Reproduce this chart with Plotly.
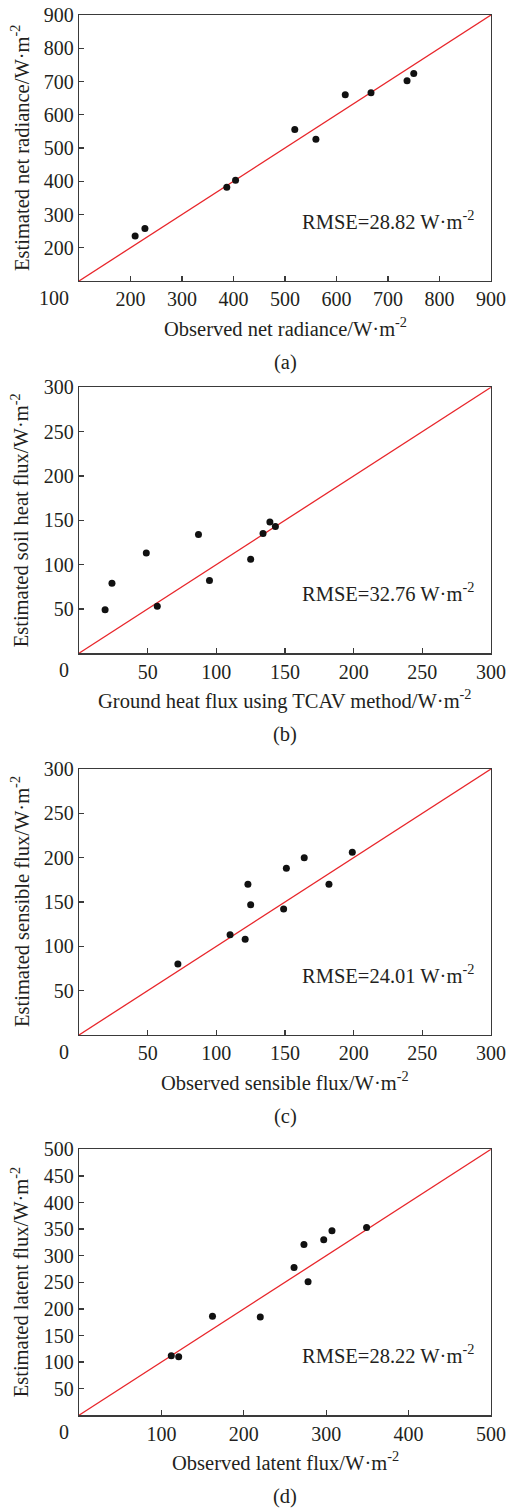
import plotly.graph_objects as go

# ---------------- data ----------------
a_obs = [209, 228, 387, 404, 519, 560, 617, 667, 737, 750]
a_est = [235, 258, 382, 403, 556, 526, 660, 666, 702, 724]

b_obs = [19, 24, 49, 57, 87, 95, 125, 134, 139, 143]
b_est = [49, 79, 113, 53, 134, 82, 106, 135, 148, 143]

c_obs = [72, 110, 121, 123, 125, 149, 151, 164, 182, 199]
c_est = [80, 113, 108, 170, 147, 142, 188, 200, 170, 206]

d_obs = [112, 121, 162, 220, 261, 273, 278, 297, 307, 349]
d_est = [112, 110, 186, 185, 278, 321, 251, 330, 347, 353]

a_ticks = [200, 300, 400, 500, 600, 700, 800, 900]
b_ticks = [50, 100, 150, 200, 250, 300]
c_ticks = [50, 100, 150, 200, 250, 300]
d_xticks = [100, 200, 300, 400, 500]
d_yticks = [50, 100, 150, 200, 250, 300, 350, 400, 450, 500]

unit = "/W·m<sup>-2</sup>"
panels = [
    dict(x=a_obs, y=a_est, lo=100, hi=900, xt=a_ticks, yt=a_ticks,
         xtitle="Observed net radiance" + unit,
         ytitle="Estimated net radiance" + unit,
         rmse="RMSE=28.82 W·m<sup>-2</sup>", tag="(a)", top=15, bottom=281),
    dict(x=b_obs, y=b_est, lo=0, hi=300, xt=b_ticks, yt=b_ticks,
         xtitle="Ground heat flux using TCAV method" + unit,
         ytitle="Estimated soil heat flux" + unit,
         rmse="RMSE=32.76 W·m<sup>-2</sup>", tag="(b)", top=387.3, bottom=653.3),
    dict(x=c_obs, y=c_est, lo=0, hi=300, xt=c_ticks, yt=c_ticks,
         xtitle="Observed sensible flux" + unit,
         ytitle="Estimated sensible flux" + unit,
         rmse="RMSE=24.01 W·m<sup>-2</sup>", tag="(c)", top=769, bottom=1035),
    dict(x=d_obs, y=d_est, lo=0, hi=500, xt=d_xticks, yt=d_yticks,
         xtitle="Observed latent flux" + unit,
         ytitle="Estimated latent flux" + unit,
         rmse="RMSE=28.22 W·m<sup>-2</sup>", tag="(d)", top=1149.3, bottom=1415.3),
]

W, H = 507, 1511
L, R = 79, 491
FONT = "Liberation Serif"
TXT = "#231f20"
AX = "#3a3a3a"
FS_TICK = 20
FS_TXT = 20.5

fig = go.Figure()
layout = dict(width=W, height=H, margin=dict(l=0, r=0, t=0, b=0, pad=0),
              paper_bgcolor="white", plot_bgcolor="white", showlegend=False,
              font=dict(family=FONT, size=FS_TXT, color=TXT))
annotations = []


def txt(size):
    return dict(family=FONT, size=size, color=TXT)


for i, p in enumerate(panels):
    n = "" if i == 0 else str(i + 1)
    xa, ya = "x" + n, "y" + n
    fig.add_trace(go.Scatter(x=[p["lo"], p["hi"]], y=[p["lo"], p["hi"]], mode="lines",
                             line=dict(color="#e8262b", width=1.3), xaxis=xa, yaxis=ya,
                             hoverinfo="skip", cliponaxis=False))
    fig.add_trace(go.Scatter(x=p["x"], y=p["y"], mode="markers",
                             marker=dict(color="#111111", size=7), xaxis=xa, yaxis=ya))
    y0 = (H - p["bottom"]) / H
    y1 = (H - p["top"]) / H
    common = dict(range=[p["lo"], p["hi"]], showgrid=False, zeroline=False,
                  showline=True, linecolor=AX, linewidth=1.2, mirror=True,
                  ticks="inside", ticklen=5, tickwidth=1.2, tickcolor=AX,
                  tickfont=txt(FS_TICK), automargin=False)
    layout["xaxis" + n] = dict(common, domain=[L / W, R / W], anchor=ya, tickvals=p["xt"])
    layout["yaxis" + n] = dict(common, domain=[y0, y1], anchor=xa, tickvals=p["yt"])
    # origin label
    annotations.append(dict(text=str(p["lo"]), xref="paper", yref="paper",
                            x=71 / W, y=(H - p["bottom"] - 17) / H,
                            xanchor="right", yanchor="middle", showarrow=False,
                            font=txt(FS_TICK)))
    # x title
    annotations.append(dict(text=p["xtitle"], xref="paper", yref="paper",
                            x=(L + R) / 2 / W, y=(H - p["bottom"] - 46) / H,
                            xanchor="center", yanchor="middle", showarrow=False,
                            font=txt(FS_TXT)))
    # y title
    annotations.append(dict(text=p["ytitle"], xref="paper", yref="paper",
                            x=20 / W, y=(H - (p["top"] + p["bottom"]) / 2) / H,
                            xanchor="center", yanchor="middle", textangle=-90,
                            showarrow=False, font=txt(FS_TXT)))
    # rmse
    annotations.append(dict(text=p["rmse"], xref="paper", yref="paper",
                            x=300 / W, y=(H - p["bottom"] + 61) / H,
                            xanchor="left", yanchor="middle", showarrow=False,
                            font=txt(FS_TXT)))
    # tag
    annotations.append(dict(text=p["tag"], xref="paper", yref="paper",
                            x=285 / W, y=(H - p["bottom"] - 81) / H,
                            xanchor="center", yanchor="middle", showarrow=False,
                            font=txt(FS_TXT)))

layout["annotations"] = annotations
fig.update_layout(**layout)
fig.write_html(
    "out.html",
    config={"displayModeBar": False, "staticPlot": True},
    post_script=(
        "document.documentElement.style.margin='0';"
        "document.documentElement.style.overflow='hidden';"
        "document.body.style.margin='0';document.body.style.padding='0';"
        "document.body.style.overflow='hidden';"
    ),
)
